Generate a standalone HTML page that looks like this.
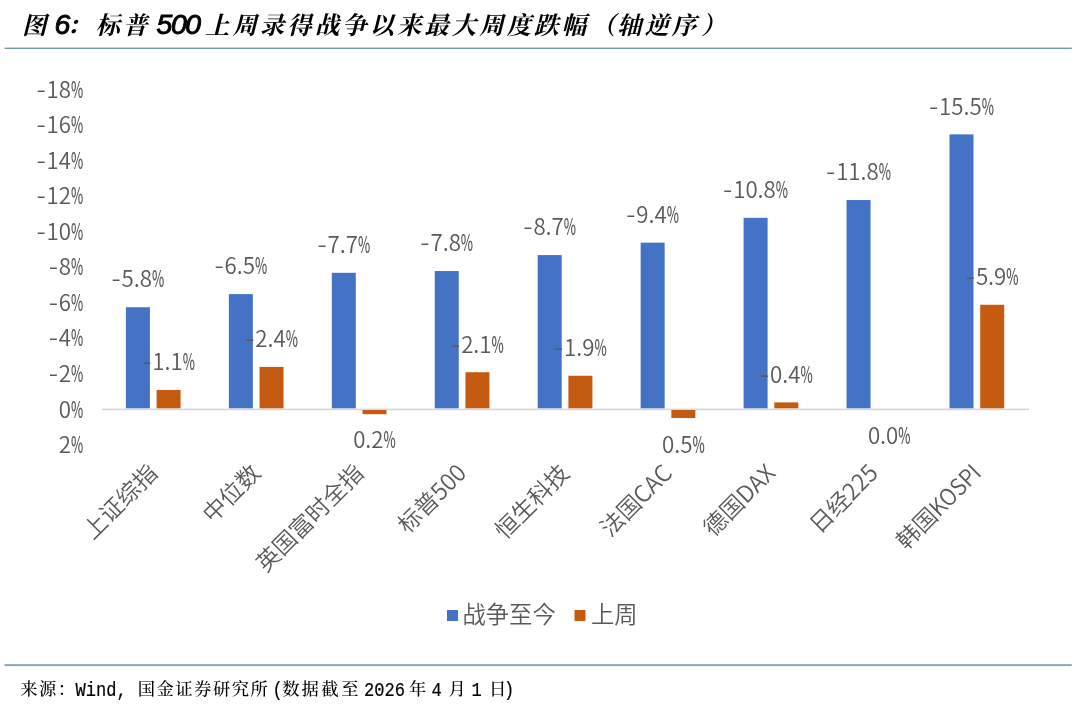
<!DOCTYPE html>
<html lang="zh-CN"><head><meta charset="utf-8"><title>图 6</title>
<style>html,body{margin:0;padding:0;background:#fff;overflow:hidden}svg{display:block}</style></head><body>
<svg width="1080" height="708" viewBox="0 0 1080 708">
<rect width="1080" height="708" fill="#fff"/>
<text y="34.00" fill="#000" font-weight="700" font-style="italic" font-size="24.5" letter-spacing="2.92" style='font-family:"Liberation Serif","Noto Serif CJK SC",serif'><tspan x="22">图 </tspan><tspan x="54.5" font-size="28.4" font-weight="400" stroke="#000" stroke-width="0.95" letter-spacing="-1.4" style='font-family:"Liberation Sans",sans-serif'>6</tspan><tspan x="66.5">：</tspan><tspan x="95.5">标普 </tspan><tspan x="156.5" font-size="28.4" font-weight="400" stroke="#000" stroke-width="0.95" letter-spacing="-1.4" style='font-family:"Liberation Sans",sans-serif'>500 </tspan><tspan x="205">上周录得战争以来最大周度跌幅</tspan><tspan x="591">（</tspan><tspan x="617">轴逆序</tspan><tspan x="701">）</tspan></text>
<rect x="4.5" y="47.6" width="1067.3" height="1.4" fill="#7499b3"/>
<rect x="4.5" y="664.1" width="1067.3" height="2" fill="#8aa9be"/>
<rect x="102" y="408.6" width="927" height="1.6" fill="#d6d6d6"/>
<g fill="#4472C4">
<rect x="125.90" y="307.25" width="24.0" height="101.05"/>
<rect x="228.85" y="294.12" width="24.0" height="114.17"/>
<rect x="331.80" y="272.82" width="24.0" height="135.48"/>
<rect x="434.75" y="271.05" width="24.0" height="137.25"/>
<rect x="537.70" y="255.08" width="24.0" height="153.22"/>
<rect x="640.65" y="242.65" width="24.0" height="165.65"/>
<rect x="743.60" y="217.80" width="24.0" height="190.50"/>
<rect x="846.55" y="200.05" width="24.0" height="208.25"/>
<rect x="949.50" y="134.38" width="24.0" height="273.93"/>
</g>
<g fill="#C55A11">
<rect x="156.60" y="389.98" width="24.0" height="18.33"/>
<rect x="259.55" y="366.90" width="24.0" height="41.40"/>
<rect x="362.50" y="410.00" width="24.0" height="4.20"/>
<rect x="465.45" y="372.23" width="24.0" height="36.07"/>
<rect x="568.40" y="375.77" width="24.0" height="32.52"/>
<rect x="671.35" y="410.00" width="24.0" height="8.00"/>
<rect x="774.30" y="402.40" width="24.0" height="5.90"/>
<rect x="980.20" y="304.77" width="24.0" height="103.53"/>
</g>
<g fill="#595959" font-size="23.3" font-weight="350" style='font-family:"Noto Sans CJK SC", "Liberation Sans", sans-serif'>
<text y="97.60"><tspan x="36.52" textLength="9.28" lengthAdjust="spacingAndGlyphs">-</tspan><tspan x="46.60" textLength="24.44" lengthAdjust="spacingAndGlyphs">18</tspan><tspan x="71.04" font-weight="500" textLength="12.26" lengthAdjust="spacingAndGlyphs">%</tspan></text>
<text y="133.15"><tspan x="36.52" textLength="9.28" lengthAdjust="spacingAndGlyphs">-</tspan><tspan x="46.60" textLength="24.44" lengthAdjust="spacingAndGlyphs">16</tspan><tspan x="71.04" font-weight="500" textLength="12.26" lengthAdjust="spacingAndGlyphs">%</tspan></text>
<text y="168.70"><tspan x="36.52" textLength="9.28" lengthAdjust="spacingAndGlyphs">-</tspan><tspan x="46.60" textLength="24.44" lengthAdjust="spacingAndGlyphs">14</tspan><tspan x="71.04" font-weight="500" textLength="12.26" lengthAdjust="spacingAndGlyphs">%</tspan></text>
<text y="204.25"><tspan x="36.52" textLength="9.28" lengthAdjust="spacingAndGlyphs">-</tspan><tspan x="46.60" textLength="24.44" lengthAdjust="spacingAndGlyphs">12</tspan><tspan x="71.04" font-weight="500" textLength="12.26" lengthAdjust="spacingAndGlyphs">%</tspan></text>
<text y="239.80"><tspan x="36.52" textLength="9.28" lengthAdjust="spacingAndGlyphs">-</tspan><tspan x="46.60" textLength="24.44" lengthAdjust="spacingAndGlyphs">10</tspan><tspan x="71.04" font-weight="500" textLength="12.26" lengthAdjust="spacingAndGlyphs">%</tspan></text>
<text y="275.35"><tspan x="48.74" textLength="9.28" lengthAdjust="spacingAndGlyphs">-</tspan><tspan x="58.82" textLength="12.22" lengthAdjust="spacingAndGlyphs">8</tspan><tspan x="71.04" font-weight="500" textLength="12.26" lengthAdjust="spacingAndGlyphs">%</tspan></text>
<text y="310.90"><tspan x="48.74" textLength="9.28" lengthAdjust="spacingAndGlyphs">-</tspan><tspan x="58.82" textLength="12.22" lengthAdjust="spacingAndGlyphs">6</tspan><tspan x="71.04" font-weight="500" textLength="12.26" lengthAdjust="spacingAndGlyphs">%</tspan></text>
<text y="346.45"><tspan x="48.74" textLength="9.28" lengthAdjust="spacingAndGlyphs">-</tspan><tspan x="58.82" textLength="12.22" lengthAdjust="spacingAndGlyphs">4</tspan><tspan x="71.04" font-weight="500" textLength="12.26" lengthAdjust="spacingAndGlyphs">%</tspan></text>
<text y="382.00"><tspan x="48.74" textLength="9.28" lengthAdjust="spacingAndGlyphs">-</tspan><tspan x="58.82" textLength="12.22" lengthAdjust="spacingAndGlyphs">2</tspan><tspan x="71.04" font-weight="500" textLength="12.26" lengthAdjust="spacingAndGlyphs">%</tspan></text>
<text y="417.55"><tspan x="58.82" textLength="12.22" lengthAdjust="spacingAndGlyphs">0</tspan><tspan x="71.04" font-weight="500" textLength="12.26" lengthAdjust="spacingAndGlyphs">%</tspan></text>
<text y="453.10"><tspan x="58.82" textLength="12.22" lengthAdjust="spacingAndGlyphs">2</tspan><tspan x="71.04" font-weight="500" textLength="12.26" lengthAdjust="spacingAndGlyphs">%</tspan></text>
<text y="286.85"><tspan x="111.52" textLength="9.28" lengthAdjust="spacingAndGlyphs">-</tspan><tspan x="121.60" textLength="30.43" lengthAdjust="spacingAndGlyphs">5.8</tspan><tspan x="152.02" font-weight="500" textLength="12.26" lengthAdjust="spacingAndGlyphs">%</tspan></text>
<text y="274.43"><tspan x="214.47" textLength="9.28" lengthAdjust="spacingAndGlyphs">-</tspan><tspan x="224.55" textLength="30.43" lengthAdjust="spacingAndGlyphs">6.5</tspan><tspan x="254.97" font-weight="500" textLength="12.26" lengthAdjust="spacingAndGlyphs">%</tspan></text>
<text y="253.13"><tspan x="317.42" textLength="9.28" lengthAdjust="spacingAndGlyphs">-</tspan><tspan x="327.50" textLength="30.43" lengthAdjust="spacingAndGlyphs">7.7</tspan><tspan x="357.92" font-weight="500" textLength="12.26" lengthAdjust="spacingAndGlyphs">%</tspan></text>
<text y="251.35"><tspan x="420.37" textLength="9.28" lengthAdjust="spacingAndGlyphs">-</tspan><tspan x="430.45" textLength="30.43" lengthAdjust="spacingAndGlyphs">7.8</tspan><tspan x="460.87" font-weight="500" textLength="12.26" lengthAdjust="spacingAndGlyphs">%</tspan></text>
<text y="235.38"><tspan x="523.32" textLength="9.28" lengthAdjust="spacingAndGlyphs">-</tspan><tspan x="533.40" textLength="30.43" lengthAdjust="spacingAndGlyphs">8.7</tspan><tspan x="563.82" font-weight="500" textLength="12.26" lengthAdjust="spacingAndGlyphs">%</tspan></text>
<text y="222.95"><tspan x="626.27" textLength="9.28" lengthAdjust="spacingAndGlyphs">-</tspan><tspan x="636.35" textLength="30.43" lengthAdjust="spacingAndGlyphs">9.4</tspan><tspan x="666.77" font-weight="500" textLength="12.26" lengthAdjust="spacingAndGlyphs">%</tspan></text>
<text y="198.10"><tspan x="723.11" textLength="9.28" lengthAdjust="spacingAndGlyphs">-</tspan><tspan x="733.19" textLength="42.63" lengthAdjust="spacingAndGlyphs">10.8</tspan><tspan x="775.83" font-weight="500" textLength="12.26" lengthAdjust="spacingAndGlyphs">%</tspan></text>
<text y="180.35"><tspan x="826.06" textLength="9.28" lengthAdjust="spacingAndGlyphs">-</tspan><tspan x="836.14" textLength="42.63" lengthAdjust="spacingAndGlyphs">11.8</tspan><tspan x="878.78" font-weight="500" textLength="12.26" lengthAdjust="spacingAndGlyphs">%</tspan></text>
<text y="114.68"><tspan x="929.01" textLength="9.28" lengthAdjust="spacingAndGlyphs">-</tspan><tspan x="939.09" textLength="42.63" lengthAdjust="spacingAndGlyphs">15.5</tspan><tspan x="981.73" font-weight="500" textLength="12.26" lengthAdjust="spacingAndGlyphs">%</tspan></text>
<text y="370.28"><tspan x="142.22" textLength="9.28" lengthAdjust="spacingAndGlyphs">-</tspan><tspan x="152.30" textLength="30.43" lengthAdjust="spacingAndGlyphs">1.1</tspan><tspan x="182.72" font-weight="500" textLength="12.26" lengthAdjust="spacingAndGlyphs">%</tspan></text>
<text y="347.20"><tspan x="245.17" textLength="9.28" lengthAdjust="spacingAndGlyphs">-</tspan><tspan x="255.25" textLength="30.43" lengthAdjust="spacingAndGlyphs">2.4</tspan><tspan x="285.67" font-weight="500" textLength="12.26" lengthAdjust="spacingAndGlyphs">%</tspan></text>
<text y="447.95"><tspan x="353.16" textLength="30.43" lengthAdjust="spacingAndGlyphs">0.2</tspan><tspan x="383.58" font-weight="500" textLength="12.26" lengthAdjust="spacingAndGlyphs">%</tspan></text>
<text y="352.53"><tspan x="451.07" textLength="9.28" lengthAdjust="spacingAndGlyphs">-</tspan><tspan x="461.15" textLength="30.43" lengthAdjust="spacingAndGlyphs">2.1</tspan><tspan x="491.57" font-weight="500" textLength="12.26" lengthAdjust="spacingAndGlyphs">%</tspan></text>
<text y="356.08"><tspan x="554.02" textLength="9.28" lengthAdjust="spacingAndGlyphs">-</tspan><tspan x="564.10" textLength="30.43" lengthAdjust="spacingAndGlyphs">1.9</tspan><tspan x="594.52" font-weight="500" textLength="12.26" lengthAdjust="spacingAndGlyphs">%</tspan></text>
<text y="453.28"><tspan x="662.01" textLength="30.43" lengthAdjust="spacingAndGlyphs">0.5</tspan><tspan x="692.43" font-weight="500" textLength="12.26" lengthAdjust="spacingAndGlyphs">%</tspan></text>
<text y="382.70"><tspan x="759.92" textLength="9.28" lengthAdjust="spacingAndGlyphs">-</tspan><tspan x="770.00" textLength="30.43" lengthAdjust="spacingAndGlyphs">0.4</tspan><tspan x="800.42" font-weight="500" textLength="12.26" lengthAdjust="spacingAndGlyphs">%</tspan></text>
<text y="444.40"><tspan x="867.91" textLength="30.43" lengthAdjust="spacingAndGlyphs">0.0</tspan><tspan x="898.33" font-weight="500" textLength="12.26" lengthAdjust="spacingAndGlyphs">%</tspan></text>
<text y="285.08"><tspan x="965.82" textLength="9.28" lengthAdjust="spacingAndGlyphs">-</tspan><tspan x="975.90" textLength="30.43" lengthAdjust="spacingAndGlyphs">5.9</tspan><tspan x="1006.32" font-weight="500" textLength="12.26" lengthAdjust="spacingAndGlyphs">%</tspan></text>
<text text-anchor="end" transform="translate(158.97 474.50) rotate(-45)">上证综指</text>
<text text-anchor="end" transform="translate(261.93 474.50) rotate(-45)">中位数</text>
<text text-anchor="end" transform="translate(364.88 474.50) rotate(-45)">英国富时全指</text>
<text text-anchor="end" transform="translate(467.82 474.50) rotate(-45)">标普500</text>
<text text-anchor="end" transform="translate(570.78 474.50) rotate(-45)">恒生科技</text>
<text text-anchor="end" transform="translate(673.73 474.50) rotate(-45)">法国CAC</text>
<text text-anchor="end" transform="translate(776.68 474.50) rotate(-45)">德国DAX</text>
<text text-anchor="end" transform="translate(879.62 474.50) rotate(-45)">日经225</text>
<text transform="translate(982.58 474.50) rotate(-45)"><tspan x="-107.87">韩国</tspan><tspan x="-61.28" textLength="61.28" lengthAdjust="spacingAndGlyphs">KOSPI</tspan></text>
</g>
<rect x="447" y="610" width="11" height="11" fill="#4472C4"/>
<text x="462.5" y="623.0" fill="#595959" font-size="23.3" font-weight="350" style='font-family:"Noto Sans CJK SC", "Liberation Sans", sans-serif'>战争至今</text>
<rect x="574.5" y="610" width="11" height="11" fill="#C55A11"/>
<text x="591" y="623.0" fill="#595959" font-size="23.3" font-weight="350" style='font-family:"Noto Sans CJK SC", "Liberation Sans", sans-serif'>上周</text>
<text y="695.00" fill="#000" font-size="17.3" font-weight="500" letter-spacing="1.50" style='font-family:"Liberation Serif","Noto Serif CJK SC",serif'><tspan x="20.3">来源：</tspan><tspan x="75.50" dy="0.9" font-size="20" font-weight="400" stroke="#000" stroke-width="0.2" letter-spacing="0" textLength="61.50" lengthAdjust="spacingAndGlyphs" style='font-family:"Liberation Mono",monospace'>Wind, </tspan><tspan x="137.8" dy="-0.9">国金证券研究所</tspan><tspan x="272.50" dy="0.9" font-size="20" font-weight="400" stroke="#000" stroke-width="0.2" letter-spacing="0" textLength="10.25" lengthAdjust="spacingAndGlyphs" style='font-family:"Liberation Mono",monospace'>(</tspan><tspan x="282.3 301.6 321.3 341.3" dy="-0.9">数据截至 </tspan><tspan x="364.00" dy="0.9" font-size="20" font-weight="400" stroke="#000" stroke-width="0.2" letter-spacing="0" textLength="51.25" lengthAdjust="spacingAndGlyphs" style='font-family:"Liberation Mono",monospace'>2026 </tspan><tspan x="409" dy="-0.9">年 </tspan><tspan x="431.50" dy="0.9" font-size="20" font-weight="400" stroke="#000" stroke-width="0.2" letter-spacing="0" textLength="20.50" lengthAdjust="spacingAndGlyphs" style='font-family:"Liberation Mono",monospace'>4 </tspan><tspan x="448.5" dy="-0.9">月 </tspan><tspan x="471.50" dy="0.9" font-size="20" font-weight="400" stroke="#000" stroke-width="0.2" letter-spacing="0" textLength="20.50" lengthAdjust="spacingAndGlyphs" style='font-family:"Liberation Mono",monospace'>1 </tspan><tspan x="489" dy="-0.9">日</tspan><tspan x="504.00" dy="0.9" font-size="20" font-weight="400" stroke="#000" stroke-width="0.2" letter-spacing="0" textLength="10.25" lengthAdjust="spacingAndGlyphs" style='font-family:"Liberation Mono",monospace'>)</tspan></text>
</svg></body></html>
